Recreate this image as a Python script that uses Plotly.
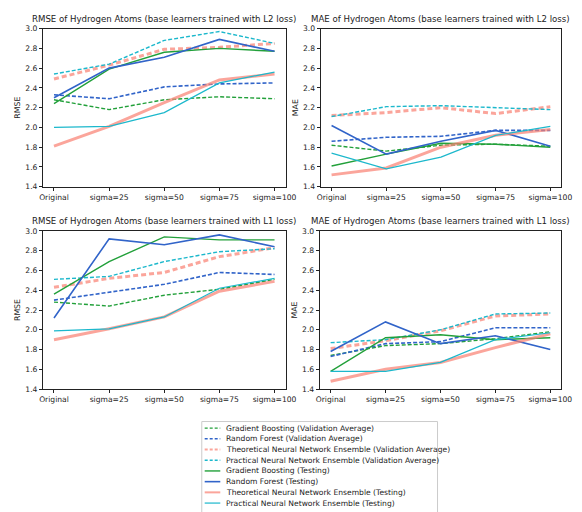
import plotly.graph_objects as go

# Noise levels on the x axis
categories = ["Original", "sigma=25", "sigma=50", "sigma=75", "sigma=100"]

series_names = [
    "Gradient Boosting (Validation Average)",
    "Random Forest (Validation Average)",
    "Theoretical Neural Network Ensemble (Validation Average)",
    "Practical Neural Network Ensemble (Validation Average)",
    "Gradient Boosting (Testing)",
    "Random Forest (Testing)",
    "Theoretical Neural Network Ensemble (Testing)",
    "Practical Neural Network Ensemble (Testing)",
]

# RMSE, base learners trained with L2 loss
rmse_l2_gb_val = [2.28, 2.18, 2.28, 2.31, 2.29]
rmse_l2_rf_val = [2.33, 2.29, 2.41, 2.44, 2.45]
rmse_l2_tnn_val = [2.49, 2.63, 2.79, 2.81, 2.85]
rmse_l2_pnn_val = [2.54, 2.64, 2.88, 2.97, 2.85]
rmse_l2_gb_test = [2.24, 2.59, 2.76, 2.80, 2.77]
rmse_l2_rf_test = [2.30, 2.60, 2.71, 2.89, 2.77]
rmse_l2_tnn_test = [1.81, 2.01, 2.25, 2.48, 2.54]
rmse_l2_pnn_test = [2.00, 2.01, 2.15, 2.45, 2.56]

# MAE, base learners trained with L2 loss
mae_l2_gb_val = [1.82, 1.76, 1.82, 1.83, 1.81]
mae_l2_rf_val = [1.86, 1.90, 1.91, 1.97, 1.97]
mae_l2_tnn_val = [2.12, 2.15, 2.20, 2.14, 2.21]
mae_l2_pnn_val = [2.11, 2.21, 2.22, 2.20, 2.18]
mae_l2_gb_test = [1.61, 1.73, 1.84, 1.83, 1.80]
mae_l2_rf_test = [2.02, 1.73, 1.86, 1.97, 1.81]
mae_l2_tnn_test = [1.52, 1.59, 1.80, 1.92, 1.98]
mae_l2_pnn_test = [1.74, 1.58, 1.70, 1.92, 2.01]

# RMSE, base learners trained with L1 loss
rmse_l1_gb_val = [2.28, 2.24, 2.35, 2.41, 2.51]
rmse_l1_rf_val = [2.30, 2.38, 2.46, 2.58, 2.56]
rmse_l1_tnn_val = [2.43, 2.52, 2.58, 2.74, 2.83]
rmse_l1_pnn_val = [2.51, 2.54, 2.69, 2.79, 2.82]
rmse_l1_gb_test = [2.36, 2.69, 2.94, 2.91, 2.91]
rmse_l1_rf_test = [2.12, 2.92, 2.86, 2.96, 2.84]
rmse_l1_tnn_test = [1.90, 2.01, 2.13, 2.39, 2.49]
rmse_l1_pnn_test = [1.99, 2.01, 2.13, 2.42, 2.52]

# MAE, base learners trained with L1 loss
mae_l1_gb_val = [1.74, 1.84, 1.86, 1.91, 1.98]
mae_l1_rf_val = [1.73, 1.86, 1.88, 2.02, 2.02]
mae_l1_tnn_val = [1.81, 1.89, 1.99, 2.14, 2.16]
mae_l1_pnn_val = [1.87, 1.90, 2.00, 2.16, 2.17]
mae_l1_gb_test = [1.58, 1.92, 1.95, 1.90, 1.92]
mae_l1_rf_test = [1.78, 2.08, 1.86, 1.94, 1.80]
mae_l1_tnn_test = [1.48, 1.60, 1.67, 1.82, 1.96]
mae_l1_pnn_test = [1.58, 1.58, 1.67, 1.90, 1.97]

y_ticks = [1.4, 1.6, 1.8, 2.0, 2.2, 2.4, 2.6, 2.8, 3.0]

panels = [
    ("RMSE of Hydrogen Atoms (base learners trained with L2 loss)", "RMSE",
     [rmse_l2_gb_val, rmse_l2_rf_val, rmse_l2_tnn_val, rmse_l2_pnn_val,
      rmse_l2_gb_test, rmse_l2_rf_test, rmse_l2_tnn_test, rmse_l2_pnn_test]),
    ("MAE of Hydrogen Atoms (base learners trained with L2 loss)", "MAE",
     [mae_l2_gb_val, mae_l2_rf_val, mae_l2_tnn_val, mae_l2_pnn_val,
      mae_l2_gb_test, mae_l2_rf_test, mae_l2_tnn_test, mae_l2_pnn_test]),
    ("RMSE of Hydrogen Atoms (base learners trained with L1 loss)", "RMSE",
     [rmse_l1_gb_val, rmse_l1_rf_val, rmse_l1_tnn_val, rmse_l1_pnn_val,
      rmse_l1_gb_test, rmse_l1_rf_test, rmse_l1_tnn_test, rmse_l1_pnn_test]),
    ("MAE of Hydrogen Atoms (base learners trained with L1 loss)", "MAE",
     [mae_l1_gb_val, mae_l1_rf_val, mae_l1_tnn_val, mae_l1_pnn_val,
      mae_l1_gb_test, mae_l1_rf_test, mae_l1_tnn_test, mae_l1_pnn_test]),
]

W, H = 582, 512
GREEN = "#22a03a"
BLUE = "#3164c9"
SALMON = "#fa8072"
CYAN = "#1cb8cc"
DASH = "4px,2px"

styles = [
    dict(color=GREEN, width=1.4, dash=DASH, opacity=1.0),
    dict(color=BLUE, width=1.6, dash=DASH, opacity=1.0),
    dict(color=SALMON, width=3.0, dash="5px,3px", opacity=0.7),
    dict(color=CYAN, width=1.4, dash=DASH, opacity=1.0),
    dict(color=GREEN, width=1.4, dash="solid", opacity=1.0),
    dict(color=BLUE, width=1.6, dash="solid", opacity=1.0),
    dict(color=SALMON, width=3.0, dash="solid", opacity=0.7),
    dict(color=CYAN, width=1.2, dash="solid", opacity=1.0),
]

# plot-area boxes in pixels: (left, right, top, bottom)
boxes = [
    (40, 289, 25, 186),
    (325, 572, 25, 186),
    (40, 289, 231, 392),
    (324, 572, 231, 392),
]

FONT = "DejaVu Sans"
fig = go.Figure()
x_idx = list(range(len(categories)))

for p, (title, ylab, data) in enumerate(panels):
    n = "" if p == 0 else str(p + 1)
    for s, (vals, st) in enumerate(zip(data, styles)):
        fig.add_trace(go.Scatter(
            x=x_idx, y=vals, mode="lines", name=series_names[s],
            showlegend=False, opacity=st["opacity"],
            line=dict(color=st["color"], width=st["width"], dash=st["dash"]),
            xaxis="x" + n, yaxis="y" + n,
        ))
    l, r, t, b = boxes[p]
    axis_common = dict(showline=True, mirror=True, linecolor="#222", linewidth=1,
                       ticks="outside", ticklen=3, tickcolor="#222",
                       showgrid=False, zeroline=False,
                       tickfont=dict(family=FONT, size=7.6, color="#222"))
    fig.update_layout(**{
        "xaxis" + n: dict(domain=[l / W, r / W], range=[-0.2, 4.2],
                          tickvals=x_idx, ticktext=categories,
                          anchor="y" + n, **axis_common),
        "yaxis" + n: dict(domain=[1 - b / H, 1 - t / H], range=[1.4, 3.0],
                          tickvals=y_ticks, tickformat=".1f",
                          anchor="x" + n,
                          title=dict(text=ylab, standoff=3,
                                     font=dict(family=FONT, size=7.8, color="#222")),
                          **axis_common),
    })
    fig.add_annotation(text=title, xref="paper", yref="paper",
                       x=(l + r) / 2 / W, y=1 - (t - 3) / H,
                       xanchor="center", yanchor="bottom", showarrow=False,
                       font=dict(family=FONT, size=8.6, color="#222"))

# legend block below the panels
lx0, lx1, ly0 = 203, 445, 425
fig.add_shape(type="rect", xref="paper", yref="paper",
              x0=lx0 / W, x1=lx1 / W, y0=1 - 520 / H, y1=1 - ly0 / H,
              line=dict(color="#cccccc", width=1), fillcolor="white", layer="below")
for s, st in enumerate(styles):
    yc = 431.7 + s * 10.9
    fig.add_shape(type="line", xref="paper", yref="paper",
                  x0=206 / W, x1=222 / W, y0=1 - yc / H, y1=1 - yc / H,
                  opacity=st["opacity"],
                  line=dict(color=st["color"], width=min(st["width"], 2.0),
                            dash="3px,2px" if st["dash"] != "solid" else "solid"))
    fig.add_annotation(text=series_names[s], xref="paper", yref="paper",
                       x=226 / W, y=1 - yc / H, xanchor="left", yanchor="middle",
                       showarrow=False,
                       font=dict(family=FONT, size=7.6, color="#222"))

fig.update_layout(width=W, height=H, margin=dict(l=0, r=0, t=0, b=0),
                  paper_bgcolor="white", plot_bgcolor="white", showlegend=False)

fig.write_html("out.html")
